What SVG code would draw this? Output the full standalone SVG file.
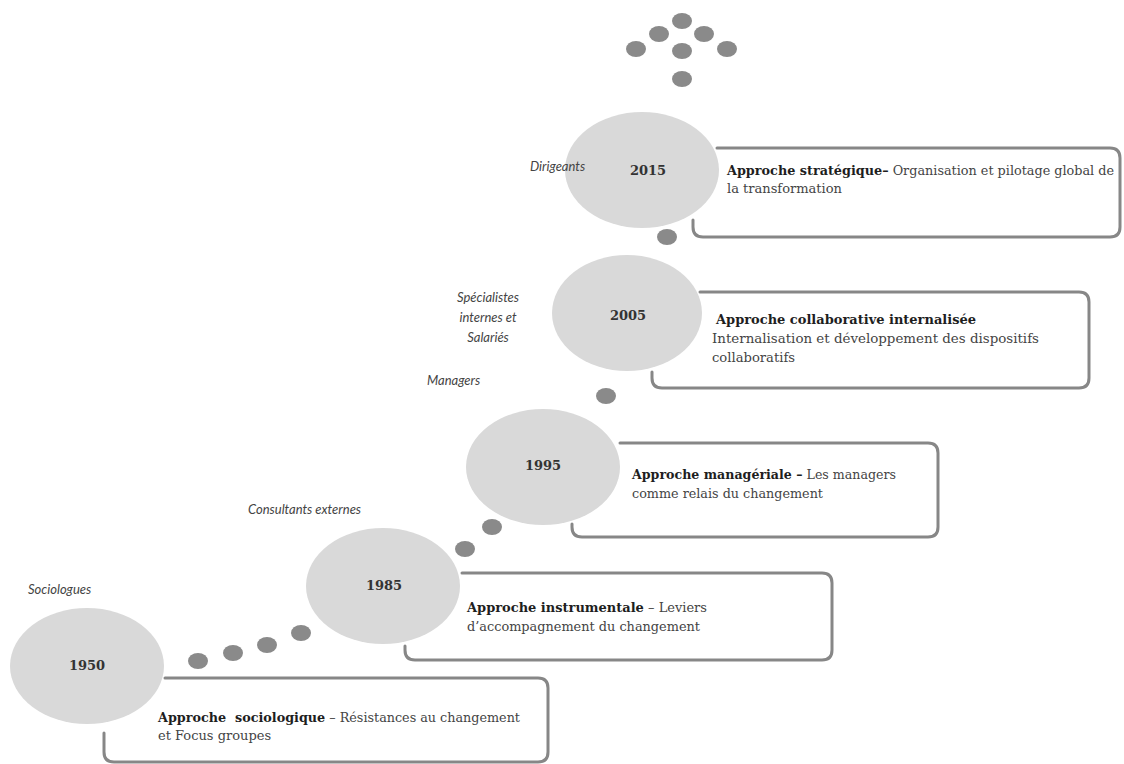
<svg xmlns="http://www.w3.org/2000/svg" width="1124" height="764" viewBox="0 0 1124 764">
<defs>
<style>
.ell{fill:#d9d9d9}
.dot{fill:#8a8a8a}
.box{fill:none;stroke:#878787;stroke-width:3;stroke-linejoin:round;stroke-linecap:round}
.yr{font-family:"DejaVu Serif","Liberation Serif",serif;font-weight:bold;font-size:13px;fill:#333;text-anchor:middle}
.lbl{font-family:Lato,"Liberation Sans",sans-serif;font-style:italic;font-size:13px;fill:#444}
.txt{font-family:"DejaVu Serif","Liberation Serif",serif;font-size:13px;fill:#444;white-space:pre}
.b{font-weight:bold;fill:#1e1e1e}
</style>
</defs>
<rect width="1124" height="764" fill="#fff"/>
<g id="connectors">
<ellipse class="dot" cx="198" cy="661" rx="10" ry="8"/>
<ellipse class="dot" cx="233" cy="653" rx="10" ry="8"/>
<ellipse class="dot" cx="267" cy="645" rx="10" ry="8"/>
<ellipse class="dot" cx="301" cy="633" rx="10" ry="8"/>
<ellipse class="dot" cx="465" cy="549" rx="10" ry="8"/>
<ellipse class="dot" cx="492" cy="527" rx="10" ry="8"/>
<ellipse class="dot" cx="606" cy="396" rx="10" ry="8"/>
<ellipse class="dot" cx="667" cy="237" rx="10" ry="8"/>
<ellipse class="dot" cx="682" cy="21" rx="10" ry="8"/>
<ellipse class="dot" cx="659" cy="34" rx="10" ry="8"/>
<ellipse class="dot" cx="704" cy="34" rx="10" ry="8"/>
<ellipse class="dot" cx="636" cy="49" rx="10" ry="8"/>
<ellipse class="dot" cx="682" cy="51" rx="10" ry="8"/>
<ellipse class="dot" cx="727" cy="49" rx="10" ry="8"/>
<ellipse class="dot" cx="682" cy="79" rx="10" ry="8"/>
</g>
<g id="n1950">
<path class="box" d="M165,678 H538 Q548,678 548,688 V752 Q548,762 538,762 H114 Q104,762 104,752 V733"/>
<ellipse class="ell" cx="87" cy="666" rx="77" ry="58"/>
<text class="yr" x="87" y="670">1950</text>
<text class="lbl" x="28" y="594">Sociologues</text>
<text class="txt" x="158" y="722" textLength="362" lengthAdjust="spacingAndGlyphs"><tspan class="b">Approche  sociologique</tspan> – Résistances au changement</text>
<text class="txt" x="158" y="740">et Focus groupes</text>
</g>
<g id="n1985">
<path class="box" d="M462,573 H822 Q832,573 832,583 V650 Q832,660 822,660 H415 Q405,660 405,650 V646"/>
<ellipse class="ell" cx="383" cy="586" rx="77" ry="58"/>
<text class="yr" x="384" y="590">1985</text>
<text class="lbl" x="248" y="514">Consultants externes</text>
<text class="txt" x="467" y="612" textLength="240" lengthAdjust="spacingAndGlyphs"><tspan class="b">Approche instrumentale</tspan> – Leviers</text>
<text class="txt" x="467" y="631" textLength="233" lengthAdjust="spacingAndGlyphs">d’accompagnement du changement</text>
</g>
<g id="n1995">
<path class="box" d="M620,443 H928 Q938,443 938,453 V527 Q938,537 928,537 H582 Q572,537 572,527 V524"/>
<ellipse class="ell" cx="543" cy="467" rx="77" ry="58"/>
<text class="yr" x="543" y="470">1995</text>
<text class="lbl" x="427" y="385">Managers</text>
<text class="txt" x="632" y="479" textLength="264" lengthAdjust="spacingAndGlyphs"><tspan class="b">Approche managériale –</tspan> Les managers</text>
<text class="txt" x="632" y="498" textLength="191" lengthAdjust="spacingAndGlyphs">comme relais du changement</text>
</g>
<g id="n2005">
<path class="box" d="M700,292 H1079 Q1089,292 1089,302 V378 Q1089,388 1079,388 H662 Q652,388 652,378 V372"/>
<ellipse class="ell" cx="627" cy="313" rx="75" ry="58"/>
<text class="yr" x="628" y="320">2005</text>
<text class="lbl" x="488" y="302" text-anchor="middle">Spécialistes</text>
<text class="lbl" x="488" y="322" text-anchor="middle">internes et</text>
<text class="lbl" x="488" y="342" text-anchor="middle">Salariés</text>
<text class="txt b" x="716" y="324" textLength="260" lengthAdjust="spacingAndGlyphs">Approche collaborative internalisée</text>
<text class="txt" x="712" y="343" textLength="327" lengthAdjust="spacingAndGlyphs">Internalisation et développement des dispositifs</text>
<text class="txt" x="712" y="362" textLength="83" lengthAdjust="spacingAndGlyphs">collaboratifs</text>
</g>
<g id="n2015">
<path class="box" d="M717,148 H1110 Q1120,148 1120,158 V227 Q1120,237 1110,237 H703 Q693,237 693,227 V220"/>
<ellipse class="ell" cx="642" cy="170" rx="77" ry="58"/>
<text class="yr" x="648" y="175">2015</text>
<text class="lbl" x="530" y="171">Dirigeants</text>
<text class="txt" x="727" y="175" textLength="387" lengthAdjust="spacingAndGlyphs"><tspan class="b">Approche stratégique–</tspan> Organisation et pilotage global de</text>
<text class="txt" x="727" y="193" textLength="115" lengthAdjust="spacingAndGlyphs">la transformation</text>
</g>
</svg>
